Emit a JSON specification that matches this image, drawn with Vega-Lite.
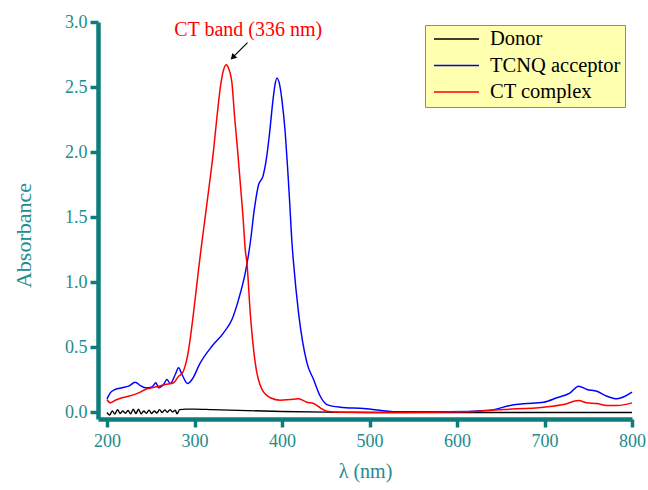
{
  "$schema": "https://vega.github.io/schema/vega-lite/v6.json",
  "width": 534,
  "height": 397,
  "autosize": {"type": "none"},
  "padding": {"left": 98, "top": 22, "right": 16, "bottom": 71},
  "background": "white",
  "config": {
    "view": {"stroke": null},
    "font": "Liberation Serif",
    "axis": {
      "grid": false,
      "domainColor": "#0e7c7b",
      "domainWidth": 4.5,
      "tickColor": "#0e7c7b",
      "tickWidth": 3.5,
      "tickSize": 8,
      "labelFont": "Liberation Serif",
      "labelFontSize": 18,
      "labelColor": "#238b8b",
      "titleFont": "Liberation Serif",
      "titleFontWeight": "normal",
      "titleColor": "#238b8b"
    }
  },
  "datasets": {
    "spectra": [
      {"wl": 200, "A": 0.0, "series": "Donor"},
      {"wl": 203, "A": -0.02, "series": "Donor"},
      {"wl": 206, "A": 0.012, "series": "Donor"},
      {"wl": 209, "A": -0.012, "series": "Donor"},
      {"wl": 212, "A": 0.022, "series": "Donor"},
      {"wl": 215, "A": -0.008, "series": "Donor"},
      {"wl": 218, "A": 0.012, "series": "Donor"},
      {"wl": 221, "A": -0.006, "series": "Donor"},
      {"wl": 224, "A": 0.015, "series": "Donor"},
      {"wl": 227, "A": -0.01, "series": "Donor"},
      {"wl": 230, "A": 0.025, "series": "Donor"},
      {"wl": 233, "A": -0.008, "series": "Donor"},
      {"wl": 236, "A": 0.025, "series": "Donor"},
      {"wl": 239, "A": -0.01, "series": "Donor"},
      {"wl": 242, "A": 0.012, "series": "Donor"},
      {"wl": 245, "A": -0.006, "series": "Donor"},
      {"wl": 248, "A": 0.018, "series": "Donor"},
      {"wl": 251, "A": -0.008, "series": "Donor"},
      {"wl": 254, "A": 0.012, "series": "Donor"},
      {"wl": 257, "A": -0.004, "series": "Donor"},
      {"wl": 260, "A": 0.022, "series": "Donor"},
      {"wl": 263, "A": 0.0, "series": "Donor"},
      {"wl": 266, "A": 0.02, "series": "Donor"},
      {"wl": 269, "A": 0.002, "series": "Donor"},
      {"wl": 272, "A": 0.022, "series": "Donor"},
      {"wl": 275, "A": 0.004, "series": "Donor"},
      {"wl": 278, "A": 0.018, "series": "Donor"},
      {"wl": 280, "A": -0.01, "series": "Donor"},
      {"wl": 283, "A": 0.022, "series": "Donor"},
      {"wl": 290, "A": 0.026, "series": "Donor"},
      {"wl": 300, "A": 0.026, "series": "Donor"},
      {"wl": 320, "A": 0.022, "series": "Donor"},
      {"wl": 350, "A": 0.016, "series": "Donor"},
      {"wl": 400, "A": 0.008, "series": "Donor"},
      {"wl": 450, "A": 0.003, "series": "Donor"},
      {"wl": 500, "A": 0.0, "series": "Donor"},
      {"wl": 600, "A": 0.0, "series": "Donor"},
      {"wl": 700, "A": 0.0, "series": "Donor"},
      {"wl": 800, "A": 0.0, "series": "Donor"},

      {"wl": 200, "A": 0.105, "series": "TCNQ acceptor"},
      {"wl": 203.7, "A": 0.151, "series": "TCNQ acceptor"},
      {"wl": 209.4, "A": 0.177, "series": "TCNQ acceptor"},
      {"wl": 217.1, "A": 0.19, "series": "TCNQ acceptor"},
      {"wl": 224.6, "A": 0.202, "series": "TCNQ acceptor"},
      {"wl": 232.3, "A": 0.233, "series": "TCNQ acceptor"},
      {"wl": 238, "A": 0.207, "series": "TCNQ acceptor"},
      {"wl": 243.7, "A": 0.19, "series": "TCNQ acceptor"},
      {"wl": 251.4, "A": 0.197, "series": "TCNQ acceptor"},
      {"wl": 255.9, "A": 0.228, "series": "TCNQ acceptor"},
      {"wl": 258.9, "A": 0.19, "series": "TCNQ acceptor"},
      {"wl": 264.6, "A": 0.215, "series": "TCNQ acceptor"},
      {"wl": 268.5, "A": 0.253, "series": "TCNQ acceptor"},
      {"wl": 272.3, "A": 0.223, "series": "TCNQ acceptor"},
      {"wl": 278, "A": 0.292, "series": "TCNQ acceptor"},
      {"wl": 281.8, "A": 0.343, "series": "TCNQ acceptor"},
      {"wl": 285.7, "A": 0.292, "series": "TCNQ acceptor"},
      {"wl": 292.1, "A": 0.223, "series": "TCNQ acceptor"},
      {"wl": 297.1, "A": 0.253, "series": "TCNQ acceptor"},
      {"wl": 306.6, "A": 0.381, "series": "TCNQ acceptor"},
      {"wl": 319.9, "A": 0.509, "series": "TCNQ acceptor"},
      {"wl": 333.2, "A": 0.612, "series": "TCNQ acceptor"},
      {"wl": 342.8, "A": 0.714, "series": "TCNQ acceptor"},
      {"wl": 350.3, "A": 0.867, "series": "TCNQ acceptor"},
      {"wl": 358, "A": 1.072, "series": "TCNQ acceptor"},
      {"wl": 363.7, "A": 1.302, "series": "TCNQ acceptor"},
      {"wl": 368.3, "A": 1.558, "series": "TCNQ acceptor"},
      {"wl": 373.2, "A": 1.75, "series": "TCNQ acceptor"},
      {"wl": 378.2, "A": 1.814, "series": "TCNQ acceptor"},
      {"wl": 382, "A": 1.942, "series": "TCNQ acceptor"},
      {"wl": 385.8, "A": 2.147, "series": "TCNQ acceptor"},
      {"wl": 389.7, "A": 2.402, "series": "TCNQ acceptor"},
      {"wl": 392.3, "A": 2.53, "series": "TCNQ acceptor"},
      {"wl": 394.2, "A": 2.569, "series": "TCNQ acceptor"},
      {"wl": 396.9, "A": 2.53, "series": "TCNQ acceptor"},
      {"wl": 399.9, "A": 2.402, "series": "TCNQ acceptor"},
      {"wl": 403.7, "A": 2.147, "series": "TCNQ acceptor"},
      {"wl": 406.3, "A": 1.89, "series": "TCNQ acceptor"},
      {"wl": 408.6, "A": 1.635, "series": "TCNQ acceptor"},
      {"wl": 411.4, "A": 1.302, "series": "TCNQ acceptor"},
      {"wl": 413.2, "A": 1.149, "series": "TCNQ acceptor"},
      {"wl": 418.9, "A": 0.765, "series": "TCNQ acceptor"},
      {"wl": 428.5, "A": 0.381, "series": "TCNQ acceptor"},
      {"wl": 436.1, "A": 0.253, "series": "TCNQ acceptor"},
      {"wl": 443.7, "A": 0.125, "series": "TCNQ acceptor"},
      {"wl": 451.4, "A": 0.061, "series": "TCNQ acceptor"},
      {"wl": 466.6, "A": 0.041, "series": "TCNQ acceptor"},
      {"wl": 493.2, "A": 0.031, "series": "TCNQ acceptor"},
      {"wl": 531.4, "A": 0.005, "series": "TCNQ acceptor"},
      {"wl": 588.5, "A": 0.005, "series": "TCNQ acceptor"},
      {"wl": 638, "A": 0.018, "series": "TCNQ acceptor"},
      {"wl": 660.9, "A": 0.054, "series": "TCNQ acceptor"},
      {"wl": 676.1, "A": 0.067, "series": "TCNQ acceptor"},
      {"wl": 698.9, "A": 0.079, "series": "TCNQ acceptor"},
      {"wl": 714.2, "A": 0.113, "series": "TCNQ acceptor"},
      {"wl": 729.4, "A": 0.151, "series": "TCNQ acceptor"},
      {"wl": 738.9, "A": 0.202, "series": "TCNQ acceptor"},
      {"wl": 748.5, "A": 0.177, "series": "TCNQ acceptor"},
      {"wl": 759.9, "A": 0.163, "series": "TCNQ acceptor"},
      {"wl": 771.4, "A": 0.125, "series": "TCNQ acceptor"},
      {"wl": 782.8, "A": 0.105, "series": "TCNQ acceptor"},
      {"wl": 800, "A": 0.156, "series": "TCNQ acceptor"},

      {"wl": 200, "A": 0.1, "series": "CT complex"},
      {"wl": 203.7, "A": 0.074, "series": "CT complex"},
      {"wl": 209.4, "A": 0.094, "series": "CT complex"},
      {"wl": 217.1, "A": 0.113, "series": "CT complex"},
      {"wl": 224.6, "A": 0.125, "series": "CT complex"},
      {"wl": 236.1, "A": 0.151, "series": "CT complex"},
      {"wl": 243.7, "A": 0.177, "series": "CT complex"},
      {"wl": 251.4, "A": 0.19, "series": "CT complex"},
      {"wl": 258.9, "A": 0.202, "series": "CT complex"},
      {"wl": 266.6, "A": 0.215, "series": "CT complex"},
      {"wl": 276.1, "A": 0.228, "series": "CT complex"},
      {"wl": 281.8, "A": 0.279, "series": "CT complex"},
      {"wl": 286.3, "A": 0.305, "series": "CT complex"},
      {"wl": 289.4, "A": 0.36, "series": "CT complex"},
      {"wl": 293.2, "A": 0.48, "series": "CT complex"},
      {"wl": 298.9, "A": 0.767, "series": "CT complex"},
      {"wl": 304.6, "A": 1.097, "series": "CT complex"},
      {"wl": 307.4, "A": 1.251, "series": "CT complex"},
      {"wl": 310.3, "A": 1.404, "series": "CT complex"},
      {"wl": 312.3, "A": 1.507, "series": "CT complex"},
      {"wl": 317.2, "A": 1.763, "series": "CT complex"},
      {"wl": 321.8, "A": 2.018, "series": "CT complex"},
      {"wl": 325.7, "A": 2.274, "series": "CT complex"},
      {"wl": 330.2, "A": 2.53, "series": "CT complex"},
      {"wl": 333.2, "A": 2.632, "series": "CT complex"},
      {"wl": 336.3, "A": 2.671, "series": "CT complex"},
      {"wl": 338.9, "A": 2.645, "series": "CT complex"},
      {"wl": 342.8, "A": 2.53, "series": "CT complex"},
      {"wl": 345.8, "A": 2.274, "series": "CT complex"},
      {"wl": 349.2, "A": 2.018, "series": "CT complex"},
      {"wl": 352.3, "A": 1.763, "series": "CT complex"},
      {"wl": 355.4, "A": 1.507, "series": "CT complex"},
      {"wl": 358, "A": 1.251, "series": "CT complex"},
      {"wl": 359.9, "A": 1.149, "series": "CT complex"},
      {"wl": 363.7, "A": 0.765, "series": "CT complex"},
      {"wl": 369.4, "A": 0.381, "series": "CT complex"},
      {"wl": 377.1, "A": 0.177, "series": "CT complex"},
      {"wl": 386.6, "A": 0.113, "series": "CT complex"},
      {"wl": 398, "A": 0.094, "series": "CT complex"},
      {"wl": 409.4, "A": 0.1, "series": "CT complex"},
      {"wl": 418.9, "A": 0.105, "series": "CT complex"},
      {"wl": 428.5, "A": 0.079, "series": "CT complex"},
      {"wl": 436.1, "A": 0.069, "series": "CT complex"},
      {"wl": 443.7, "A": 0.036, "series": "CT complex"},
      {"wl": 451.4, "A": 0.01, "series": "CT complex"},
      {"wl": 466.6, "A": 0.002, "series": "CT complex"},
      {"wl": 478, "A": 0.002, "series": "CT complex"},
      {"wl": 531.4, "A": 0.0, "series": "CT complex"},
      {"wl": 607.5, "A": 0.005, "series": "CT complex"},
      {"wl": 653.2, "A": 0.023, "series": "CT complex"},
      {"wl": 698.9, "A": 0.041, "series": "CT complex"},
      {"wl": 721.8, "A": 0.061, "series": "CT complex"},
      {"wl": 738.9, "A": 0.092, "series": "CT complex"},
      {"wl": 748.5, "A": 0.074, "series": "CT complex"},
      {"wl": 759.9, "A": 0.069, "series": "CT complex"},
      {"wl": 771.4, "A": 0.054, "series": "CT complex"},
      {"wl": 782.8, "A": 0.054, "series": "CT complex"},
      {"wl": 800, "A": 0.074, "series": "CT complex"}
    ],
    "arrow": [
      {"x1": 360.6, "y1": 2.842, "x2": 343.7, "y2": 2.728}
    ],
    "arrowhead": [
      {"x": 343.7, "y": 2.728}
    ],
    "label": [
      {"x": 361.4, "y": 2.893, "text": "CT band (336 nm)"}
    ]
  },
  "layer": [
    {
      "data": {"name": "spectra"},
      "mark": {"type": "line", "interpolate": "monotone"},
      "encoding": {
        "x": {
          "field": "wl", "type": "quantitative",
          "scale": {"domain": [189.7, 800], "nice": false, "zero": false},
          "axis": {
            "title": "λ (nm)",
            "values": [200, 300, 400, 500, 600, 700, 800],
            "labelFont": "Liberation Serif",
            "titleFont": "Liberation Serif",
            "labelFlush": false,
            "labelPadding": 5,
            "titleFontSize": 20,
            "titleX": 267,
            "titleY": 58,
            "titleBaseline": "alphabetic"
          }
        },
        "y": {
          "field": "A", "type": "quantitative",
          "scale": {"domain": [-0.05, 3.0], "nice": false, "zero": false},
          "axis": {
            "title": "Absorbance",
            "values": [0, 0.5, 1, 1.5, 2, 2.5, 3],
            "format": ".1f",
            "labelFont": "Liberation Serif",
            "titleFont": "Liberation Serif",
            "labelFlush": false,
            "labelPadding": 3,
            "titleFontSize": 22,
            "titleX": -68,
            "titleY": 213,
            "titleBaseline": "alphabetic"
          }
        },
        "color": {
          "field": "series", "type": "nominal",
          "scale": {"domain": ["Donor", "TCNQ acceptor", "CT complex"], "range": ["#000000", "#0000ff", "#ff0000"]},
          "legend": {
            "title": null,
            "orient": "none",
            "legendX": 327,
            "legendY": 3,
            "fillColor": "#ffffb0",
            "strokeColor": "#5f9c94",
            "padding": 4,
            "symbolType": "M-2.25,0H2.25",
            "symbolSize": 400,
            "symbolOffset": 16.5,
            "symbolStrokeWidth": 1.8,
            "labelFont": "Liberation Serif",
            "labelFontSize": 20.5,
            "labelOffset": 22.5,
            "clipHeight": 20,
            "rowPadding": 5.5,
            "encoding": {
              "labels": {"fill": {"signal": "scale('color', datum.value)"}}
            }
          }
        },
        "strokeWidth": {
          "field": "series", "type": "nominal",
          "scale": {"domain": ["Donor", "TCNQ acceptor", "CT complex"], "range": [1.4, 1.5, 2.8]},
          "legend": null
        }
      }
    },
    {
      "data": {"name": "arrow"},
      "mark": {"type": "rule", "color": "black", "strokeWidth": 1.2},
      "encoding": {
        "x": {"field": "x1", "type": "quantitative"},
        "y": {"field": "y1", "type": "quantitative"},
        "x2": {"field": "x2"},
        "y2": {"field": "y2"}
      }
    },
    {
      "data": {"name": "arrowhead"},
      "mark": {"type": "point", "shape": "triangle-up", "filled": true, "color": "black", "size": 45, "angle": 225, "opacity": 1},
      "encoding": {
        "x": {"field": "x", "type": "quantitative"},
        "y": {"field": "y", "type": "quantitative"}
      }
    },
    {
      "data": {"name": "label"},
      "mark": {"type": "text", "color": "#ff0000", "font": "Liberation Serif", "fontSize": 20, "align": "center", "baseline": "alphabetic"},
      "encoding": {
        "x": {"field": "x", "type": "quantitative"},
        "y": {"field": "y", "type": "quantitative"},
        "text": {"field": "text"}
      }
    }
  ]
}
